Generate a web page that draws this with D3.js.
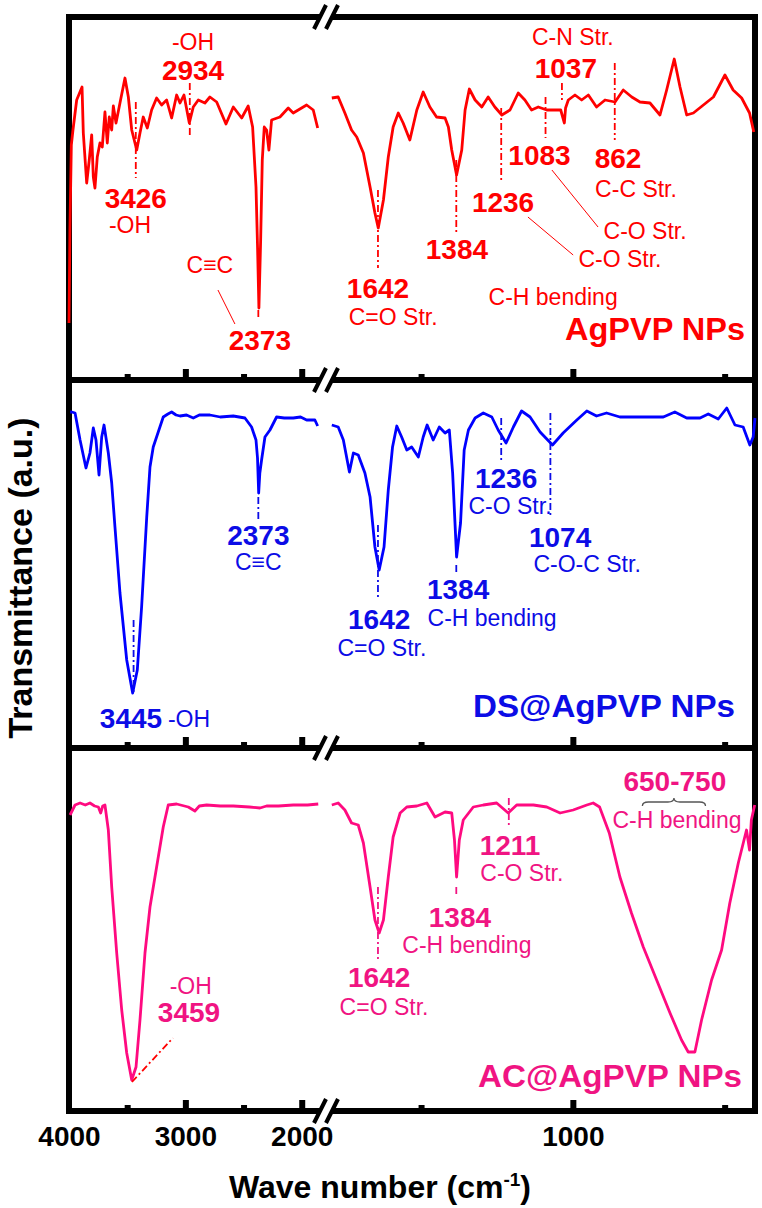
<!DOCTYPE html>
<html>
<head>
<meta charset="utf-8" />
<title>FTIR spectra</title>
<style>
body { margin: 0; background: #fff; }
svg { display: block; }
text { font-family: "Liberation Sans", Arial, sans-serif; }
</style>
</head>
<body>
<script src="https://d3js.org/d3.v7.min.js"></script>
<script>
var width = 762,
    height = 1208;

// spectra: [wave number, transmittance (a.u.)]
var agpvp = [
  [4000,57],[3992,150],[3980,235],[3966,250],[3934,280],[3888,293],[3877,247],[3848,197],[3826,220],[3805,245],
  [3791,203],[3777,192],[3757,223],[3734,237],[3714,233],[3691,268],[3671,237],[3654,263],[3633,250],[3619,274],
  [3596,257],[3562,277],[3519,302],[3490,283],[3461,250],[3418,230],[3390,247],[3362,263],[3327,252],[3290,270],
  [3247,282],[3204,275],[3161,280],[3118,262],[3075,285],[3046,277],[3012,285],[2966,257],[2932,273],[2889,280],
  [2832,277],[2789,283],[2731,278],[2651,256],[2588,273],[2516,262],[2460,274],[2422,253],[2393,193],[2379,130],
  [2368,72],[2353,140],[2339,220],[2322,253],[2302,250],[2282,230],[2259,260],[2187,263],[2116,272],[2073,267],
  [2030,270],[1958,275],[1901,270],[1863,252],
  [1794,282],[1773,283],[1751,267],[1729,250],[1712,243],[1690,227],[1668,193],[1652,167],[1641,152],[1624,180],
  [1608,223],[1592,253],[1575,267],[1559,257],[1537,240],[1514,270],[1493,288],[1471,273],[1449,263],[1421,262],
  [1410,253],[1399,230],[1383,205],[1366,230],[1355,270],[1341,291],[1322,280],[1300,273],[1279,283],[1257,273],
  [1234,265],[1207,270],[1180,287],[1158,280],[1136,270],[1114,273],[1086,270],[1040,270],[1028,257],[1024,272],
  [1015,280],[993,285],[971,280],[949,285],[922,273],[894,280],[861,278],[834,290],[806,283],[779,278],
  [746,277],[713,265],[691,290],[666,321],[647,293],[625,265],[603,267],[570,275],[537,283],[499,305],
  [472,290],[444,282],[418,267],[404,248]
];

var dsAgpvp = [
  [3990,336],[3977,336],[3948,335],[3905,308],[3854,280],[3820,295],[3791,320],[3768,308],[3742,273],[3719,311],
  [3699,323],[3662,295],[3633,265],[3605,221],[3562,155],[3504,88],[3453,55],[3413,78],[3376,141],[3332,231],
  [3304,281],[3276,301],[3233,316],[3190,331],[3150,334],[3118,336],[3080,333],[3046,332],[2990,333],[2932,330],
  [2880,333],[2789,333],[2700,331],[2588,332],[2488,330],[2431,321],[2393,308],[2380,290],[2370,255],[2360,275],
  [2345,288],[2316,311],[2273,318],[2216,331],[2150,330],[2073,330],[2010,331],[1958,328],[1887,328],[1863,322],
  [1794,323],[1773,321],[1756,308],[1736,276],[1723,295],[1707,293],[1685,275],[1668,251],[1652,201],[1638,178],
  [1622,201],[1608,258],[1594,301],[1580,322],[1564,311],[1547,298],[1531,301],[1509,291],[1493,311],[1480,323],
  [1460,308],[1440,321],[1421,315],[1407,318],[1396,275],[1383,191],[1370,225],[1358,298],[1344,318],[1322,330],
  [1295,335],[1267,331],[1246,318],[1220,305],[1196,321],[1169,337],[1141,331],[1108,316],[1067,303],[1032,315],
  [987,328],[954,337],[922,332],[889,335],[845,331],[790,331],[735,331],[702,331],[664,336],[625,330],
  [581,330],[554,334],[521,329],[493,340],[466,323],[439,321],[417,303],[406,311],[400,330]
];

var acAgpvp = [
  [3991,296],[3948,306],[3905,308],[3860,306],[3820,308],[3780,305],[3748,304],[3728,298],[3710,305],[3691,306],
  [3662,281],[3633,224],[3590,158],[3547,101],[3504,58],[3461,31],[3424,44],[3390,91],[3347,158],[3304,204],
  [3247,244],[3190,284],[3147,306],[3075,307],[2975,304],[2918,300],[2880,305],[2817,306],[2700,305],[2588,305],
  [2450,304],[2359,303],[2302,305],[2200,305],[2073,306],[1950,306],[1858,307],
  [1794,306],[1773,308],[1751,301],[1729,288],[1707,286],[1690,268],[1668,224],[1652,191],[1638,178],[1624,191],
  [1608,234],[1592,274],[1569,298],[1547,304],[1514,305],[1481,308],[1454,294],[1421,299],[1399,298],[1390,271],
  [1383,234],[1374,271],[1361,291],[1328,304],[1295,306],[1251,308],[1213,298],[1185,306],[1130,306],[1086,304],
  [1042,298],[999,301],[954,306],[933,308],[912,304],[880,278],[845,234],[807,198],[768,164],[724,131],
  [680,98],[642,71],[620,59],[598,59],[576,91],[543,131],[510,161],[483,208],[455,248],[428,281],
  [418,261],[412,291],[401,306]
];

// x axis
var majorTicksL = [3000, 2000], minorTicksL = [3500, 2500];
var majorTicksR = [1000], minorTicksR = [1500, 500];
var tickLabelsL = [4000, 3000, 2000], tickLabelsR = [1000];

// peak labels: [text, wave number, a.u.]
var agpvpBold = [["2934",2934,300],["3426",3426,172],["2373",2360,30],["1642",1642,82],["1384",1382,121],
                 ["1236",1230,168],["1083",1110,215],["1037",1023,302],["862",851,212]];
var agpvpText = [["-OH",2934,330],["-OH",3476,147],["C\u2261C",2789,107],["C=O Str.",1592,55],["C-O Str.",845,113],
                 ["C-O Str.",762,141],["C-N Str.",1000,335],["C-C Str.",792,183],["C-H bending",1065,75]];
var agpvpMarks = [[2962,297,2962,245],[3426,278,3426,202],[2373,70,2373,60],[1642,190,1642,112],[1384,220,1384,147],
                  [1236,272,1236,197],[1090,283,1090,242],[1036,297,1036,280],[862,317,862,240]];
var agpvpLeaders = [[2720,90,2574,56],[1148,163,999,125],[1069,210,917,153]];

var dsBold = [["2373",2373,203],["3445",3467,20],["1642",1638,119],["1384",1378,149],["1236",1220,260],["1074",1042,201]];
var dsText = [["C\u2261C",2373,178],["-OH",2969,21],["C=O Str.",1629,92],["C-H bending",1266,122],
              ["C-O Str.",1207,234],["C-O-C Str.",953,176]];
var dsMarks = [[2373,251,2373,228],[3445,128,3445,55],[1642,223,1642,148],[1384,183,1384,173],
               [1236,330,1236,288],[1074,335,1074,233]];

var acBold = [["3459",2969,89],["1642",1638,124],["1384",1372,184],["1211",1207,256],["650-750",664,320]];
var acText = [["-OH",2954,117],["C=O Str.",1622,96],["C-H bending",1349,158],["C-O Str.",1168,230],["C-H bending",657,283]];
var acMarks = [[1642,224,1642,149],[1384,224,1384,214],[1211,313,1211,285]];
var acLeaders = [[3459,29,3107,73]];
var acBrace = [771, 563, 309];

var panels = [
  {name:"AgPVP NPs",    top:17,  bottom:380,  line:"#ff0000", ink:"#ff0000", data:agpvp,   bold:agpvpBold, text:agpvpText, marks:agpvpMarks, leaders:agpvpLeaders, lab:[745,340,180]},
  {name:"DS@AgPVP NPs", top:380, bottom:748,  line:"#0000ff", ink:"#0c0ce6", data:dsAgpvp, bold:dsBold,    text:dsText,    marks:dsMarks,    leaders:[],          lab:[735,717,262]},
  {name:"AC@AgPVP NPs", top:748, bottom:1111, line:"#ff0a80", ink:"#f01482", data:acAgpvp, bold:acBold,    text:acText,    marks:acMarks,    leaders:acLeaders,   lab:[742,1087,264]}
];

var xl = d3.scaleLinear().domain([4000, 1800]).range([69, 325]);
var xr = d3.scaleLinear().domain([1800, 400]).range([330, 755]);
var xw = function(wn){ return wn >= 1800 ? xl(wn) : xr(wn); };
var breakX = 326;

var svg = d3.select("body").append("svg")
  .attr("width", width)
  .attr("height", height);

// frame
var frame = svg.append("g");
[17, 380, 748, 1111].forEach(function(yy){
  frame.append("line").attr("x1", 66).attr("x2", breakX - 6).attr("y1", yy).attr("y2", yy);
  frame.append("line").attr("x1", breakX + 6).attr("x2", 758).attr("y1", yy).attr("y2", yy);
  [-6, 6].forEach(function(dx){
    frame.append("line")
      .attr("x1", breakX + dx - 6).attr("y1", yy + 12)
      .attr("x2", breakX + dx + 6).attr("y2", yy - 12)
      .attr("stroke-width", 4);
  });
});
frame.append("line").attr("x1", 69).attr("x2", 69).attr("y1", 14).attr("y2", 1114);
frame.append("line").attr("x1", 755).attr("x2", 755).attr("y1", 14).attr("y2", 1114);
frame.selectAll("line").attr("stroke", "#000").filter(function(){ return !this.getAttribute("stroke-width"); })
  .attr("stroke-width", 6);

// ticks on every panel base line, pointing up
panels.forEach(function(p){
  [[xl, majorTicksL, -11], [xl, minorTicksL, -6], [xr, majorTicksR, -11], [xr, minorTicksR, -6]].forEach(function(t){
    var g = svg.append("g").attr("transform", "translate(0," + p.bottom + ")")
      .call(d3.axisBottom(t[0]).tickValues(t[1]).tickSize(t[2]).tickFormat(""));
    g.select(".domain").remove();
    g.selectAll(".tick line").attr("stroke", "#000").attr("stroke-width", 6);
  });
});

// tick labels
[[xl, tickLabelsL], [xr, tickLabelsR]].forEach(function(t){
  var g = svg.append("g").attr("transform", "translate(0,1111)")
    .call(d3.axisBottom(t[0]).tickValues(t[1]).tickSize(0).tickPadding(15).tickFormat(d3.format("d")));
  g.select(".domain").remove();
  g.selectAll("text").attr("fill", "#000").style("font-size", "28px").style("font-weight", "bold")
    .style("font-family", "'Liberation Sans', Arial, sans-serif");
});

// spectra + annotations
panels.forEach(function(p){
  var y = d3.scaleLinear().domain([0, 363]).range([p.bottom, p.bottom - 363]);
  var g = svg.append("g");
  var line = d3.line().x(function(d){ return xw(d[0]); }).y(function(d){ return y(d[1]); });

  [p.data.filter(function(d){ return d[0] > 1830; }), p.data.filter(function(d){ return d[0] < 1830; })]
    .forEach(function(seg){
      g.append("path").datum(seg)
        .attr("d", line)
        .attr("fill", "none")
        .attr("stroke", p.line)
        .attr("stroke-width", 2.8)
        .attr("stroke-linejoin", "round");
    });

  g.selectAll(".mark").data(p.marks).enter().append("line")
    .attr("x1", function(d){ return xw(d[0]); }).attr("y1", function(d){ return y(d[1]); })
    .attr("x2", function(d){ return xw(d[2]); }).attr("y2", function(d){ return y(d[3]); })
    .attr("stroke", p.ink).attr("stroke-width", 1.8)
    .attr("stroke-dasharray", "7,3,2,3");

  g.selectAll(".leader").data(p.leaders).enter().append("line")
    .attr("x1", function(d){ return xw(d[0]); }).attr("y1", function(d){ return y(d[1]); })
    .attr("x2", function(d){ return xw(d[2]); }).attr("y2", function(d){ return y(d[3]); })
    .attr("stroke", p === panels[2] ? "#ff0000" : p.ink)
    .attr("stroke-width", p === panels[2] ? 1.8 : 1)
    .attr("stroke-dasharray", p === panels[2] ? "7,3,2,3" : null);

  g.selectAll(".num").data(p.bold).enter().append("text")
    .attr("x", function(d){ return xw(d[1]); }).attr("y", function(d){ return y(d[2]); })
    .attr("text-anchor", "middle").attr("fill", p.ink)
    .style("font-size", "28px").style("font-weight", "bold")
    .text(function(d){ return d[0]; });

  g.selectAll(".note").data(p.text).enter().append("text")
    .attr("x", function(d){ return xw(d[1]); }).attr("y", function(d){ return y(d[2]); })
    .attr("text-anchor", "middle").attr("fill", p.ink)
    .style("font-size", "23px")
    .text(function(d){ return d[0]; });

  if (p === panels[2]) {
    var a = xw(acBrace[0]), b = xw(acBrace[1]), m = (a + b) / 2, yb = y(acBrace[2]);
    g.append("path")
      .attr("d", "M" + a + "," + (yb + 4) + "Q" + a + "," + yb + " " + (a + 6) + "," + yb +
                 "L" + (m - 6) + "," + yb + "Q" + m + "," + yb + " " + m + "," + (yb - 4) +
                 "Q" + m + "," + yb + " " + (m + 6) + "," + yb +
                 "L" + (b - 6) + "," + yb + "Q" + b + "," + yb + " " + b + "," + (yb + 4))
      .attr("fill", "none").attr("stroke", "#555").attr("stroke-width", 1.3);
  }

  g.append("text")
    .attr("x", p.lab[0]).attr("y", p.lab[1])
    .attr("text-anchor", "end").attr("fill", p.ink)
    .attr("textLength", p.lab[2]).attr("lengthAdjust", "spacingAndGlyphs")
    .style("font-size", "32px").style("font-weight", "bold")
    .text(p.name);
});

// axis titles
var xt = svg.append("text")
  .attr("x", 380).attr("y", 1198)
  .attr("text-anchor", "middle")
  .style("font-size", "32px").style("font-weight", "bold");
xt.append("tspan").text("Wave number (cm");
xt.append("tspan").attr("dy", -12).style("font-size", "19px").text("-1");
xt.append("tspan").attr("dy", 12).text(")");

svg.append("text")
  .attr("transform", "translate(32,578) rotate(-90)")
  .attr("text-anchor", "middle")
  .style("font-size", "34px").style("font-weight", "bold")
  .text("Transmittance (a.u.)");
</script>
</body>
</html>
